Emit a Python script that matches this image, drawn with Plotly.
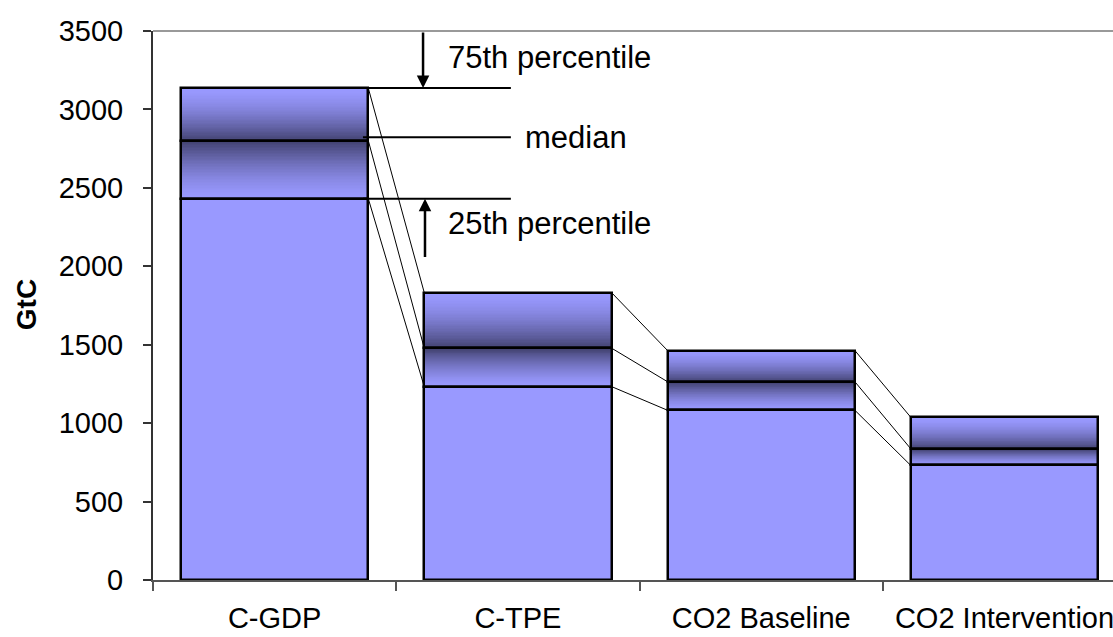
import plotly.graph_objects as go

# ---- data ----
categories = ["C-GDP", "C-TPE", "CO2 Baseline", "CO2 Intervention"]
p25 = [2431, 1233, 1082, 730]
median = [2801, 1478, 1264, 836]
p75 = [3136, 1832, 1463, 1037]
y_ticks = [0, 500, 1000, 1500, 2000, 2500, 3000, 3500]

FONT = "Liberation Sans, Arial, sans-serif"
LIGHT = (153, 153, 255)
DARK = (66, 66, 112)
BAR_W = 0.77
N = 40

def mix(t):
    c = [round(LIGHT[i] + (DARK[i] - LIGHT[i]) * t) for i in range(3)]
    return f"rgb({c[0]},{c[1]},{c[2]})"

fig = go.Figure()

# solid lower part
fig.add_trace(go.Bar(x=categories, y=p25, base=[0] * 4, width=BAR_W,
                     marker=dict(color=mix(0), line=dict(width=0)),
                     hoverinfo="skip", showlegend=False))

# gradient slices: light at 25th / 75th, dark at the median
for k in range(N):
    t = (k + 0.5) / N
    base = [a + (m - a) * k / N for a, m in zip(p25, median)]
    h = [(m - a) / N * 1.3 for a, m in zip(p25, median)]
    fig.add_trace(go.Bar(x=categories, y=h, base=base, width=BAR_W,
                         marker=dict(color=mix(t ** 1.5), line=dict(width=0)),
                         hoverinfo="skip", showlegend=False))
for k in range(N):
    t = (k + 0.5) / N
    base = [m + (b - m) * k / N for m, b in zip(median, p75)]
    h = [(b - m) / N * 1.3 for m, b in zip(median, p75)]
    fig.add_trace(go.Bar(x=categories, y=h, base=base, width=BAR_W,
                         marker=dict(color=mix((1 - t) ** 1.5), line=dict(width=0)),
                         hoverinfo="skip", showlegend=False))

# outlines
for lo, hi in ((([0] * 4), p25), (p25, median), (median, p75)):
    fig.add_trace(go.Bar(x=categories, y=[b - a for a, b in zip(lo, hi)], base=lo,
                         width=BAR_W,
                         marker=dict(color="rgba(0,0,0,0)", line=dict(color="black", width=2.5)),
                         hoverinfo="skip", showlegend=False))

shapes = []
# connecting lines between bars
for series in (p25, median, p75):
    for i in range(len(categories) - 1):
        shapes.append(dict(type="line", xref="x", yref="y",
                           x0=i + BAR_W / 2, y0=series[i],
                           x1=i + 1 - BAR_W / 2, y1=series[i + 1],
                           line=dict(color="black", width=1)))

# explanatory extension lines
x_ext0, x_ext1 = 0.363, 0.971
for yv in (p75[0], 2822, p25[0]):
    shapes.append(dict(type="line", xref="x", yref="y", x0=x_ext0, x1=x_ext1,
                       y0=yv, y1=yv, line=dict(color="black", width=2)))

# top plot border
shapes.append(dict(type="line", xref="paper", yref="paper", x0=0, x1=1, y0=1, y1=1,
                   line=dict(color="#999999", width=2)))

annotations = [
    dict(x=0.61, y=p75[0], ax=0.61, ay=3500, xref="x", yref="y", axref="x", ayref="y",
         text="", showarrow=True, arrowhead=2, arrowsize=1, arrowwidth=2.5, arrowcolor="black"),
    dict(x=0.618, y=p25[0], ax=0.618, ay=2050, xref="x", yref="y", axref="x", ayref="y",
         text="", showarrow=True, arrowhead=2, arrowsize=1, arrowwidth=2.5, arrowcolor="black"),
    dict(x=0.704, y=3334, xref="x", yref="y", text="75th percentile", showarrow=False,
         xanchor="left", yanchor="middle", font=dict(family=FONT, size=31, color="black")),
    dict(x=1.02, y=2822, xref="x", yref="y", text="median", showarrow=False,
         xanchor="left", yanchor="middle", font=dict(family=FONT, size=31, color="black")),
    dict(x=0.704, y=2270, xref="x", yref="y", text="25th percentile", showarrow=False,
         xanchor="left", yanchor="middle", font=dict(family=FONT, size=31, color="black")),
    dict(x=-0.131, y=0.501, xref="paper", yref="paper", text="<b>GtC</b>", showarrow=False,
         textangle=-90, xanchor="center", yanchor="middle",
         font=dict(family=FONT, size=28, color="black")),
]

fig.update_layout(
    width=1113, height=637,
    margin=dict(l=153, r=0, t=31, b=57, autoexpand=False),
    paper_bgcolor="white", plot_bgcolor="white",
    barmode="overlay", bargap=0,
    shapes=shapes, annotations=annotations,
    showlegend=False,
    font=dict(family=FONT, size=29, color="black"),
)
fig.update_xaxes(
    type="category", categoryorder="array", categoryarray=categories,
    range=[-0.5, 3.446], tickson="boundaries", ticks="outside", ticklen=9,
    tickwidth=2, tickcolor="#555555",
    showline=True, linecolor="#555555", linewidth=2, showgrid=False, zeroline=False,
    tickfont=dict(family=FONT, size=29, color="black"), ticklabelstandoff=11,
    automargin=False,
)
fig.update_yaxes(
    range=[0, 3500], tickvals=y_ticks, ticks="outside", ticklen=8, tickwidth=2,
    tickcolor="#333333", showline=True, linecolor="#333333", linewidth=2,
    showgrid=False, zeroline=False,
    tickfont=dict(family=FONT, size=29, color="black"), ticklabelstandoff=14,
    automargin=False,
)

fig.write_html("out.html", config={"displayModeBar": False},
               post_script="document.body.style.margin='0px';document.body.style.overflow='hidden';")
